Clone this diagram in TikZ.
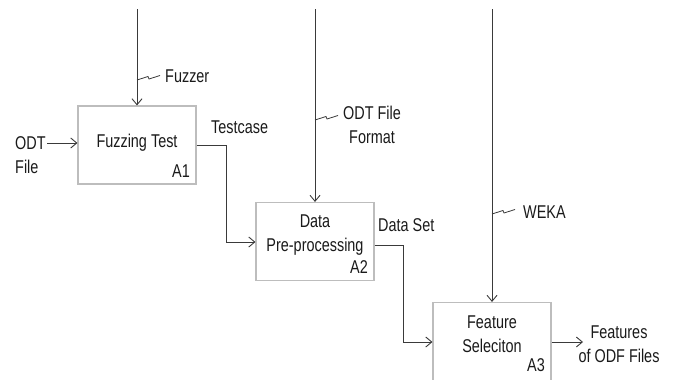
\documentclass[tikz,border=0pt]{standalone}
\usepackage{fontspec}
\setmainfont{Liberation Sans}[FakeStretch=0.78]
\usetikzlibrary{arrows.meta}
\definecolor{lin}{HTML}{3A3A3A}
\definecolor{boxc}{HTML}{BDBDBD}
\definecolor{txt}{HTML}{1A1A1A}
\tikzset{
  actbox/.style={draw=boxc, line width=1.1pt, fill=white, minimum width=118pt, minimum height=78pt, inner sep=0pt},
  flow/.style={draw=lin, line width=0.9pt, -{Straight Barb[length=6pt,width=10pt]}},
  plain/.style={draw=lin, line width=0.8pt},
  lab/.style={font=\fontsize{18.5}{24}\selectfont, text=txt, inner sep=0pt, align=center},
  code/.style={font=\fontsize{18.5}{22}\selectfont, text=txt, inner sep=0pt}
}
\begin{document}
\begin{tikzpicture}[x=1pt,y=-1pt]
\useasboundingbox (0,0) rectangle (680,380);
% boxes
\node[actbox] (A1) at (137,145) {};
\node[actbox] (A2) at (315,241.5) {};
\node[actbox] (A3) at (492,341.5) {};
\node[lab] (t1) at (137,143) {Fuzzing Test};
\node[code,anchor=east] (c1) at (190,171) {A1};
\node[lab] (t2) at (315,235) {Data\\Pre-processing};
\node[code,anchor=east] (c2) at (368,267) {A2};
\node[lab] (t3) at (492,334) {Feature\\Seleciton};
\node[code,anchor=east] (c3) at (545,365) {A3};
% top coordinates
\coordinate (m1) at (137,9);
\coordinate (m2) at (315,9);
\coordinate (m3) at (492,9);
\draw[flow] (m1) -- (A1.north);
\draw[flow] (m2) -- (A2.north);
\draw[flow] (m3) -- (A3.north);
% squiggles
\draw[plain] (137,80) -- (148,76.5) -- (149,79) -- (160,75.5);
\draw[plain] (315,120) -- (326,116.5) -- (327,119) -- (338,115.5);
\draw[plain] (492,214) -- (503,210.5) -- (504,213) -- (515,209.5);
\node[lab,anchor=west] (fz) at (165,76) {Fuzzer};
\node[lab,anchor=west,align=center] (of) at (343,125) {ODT File\\Format};
\node[lab,anchor=west] (wk) at (523,212) {WEKA};
% input
\node[lab,anchor=west,align=left] (odt) at (15,155) {ODT\\File};
\coordinate (in1) at (47,143);
\draw[flow] (in1) -- (A1.west |- in1);
% testcase
\coordinate (a1o) at (A1.east |- 0,145);
\draw[flow] (a1o) -- (226,145) -- (226,242) -- (A2.west |- 0,242);
\node[lab,anchor=west] (tc) at (211,127) {Testcase};
% data set
\coordinate (a2o) at (A2.east |- 0,245);
\draw[flow] (a2o) -- (403,245) -- (403,342) -- (A3.west |- 0,342);
\node[lab,anchor=west] (ds) at (378,225) {Data Set};
% output
\coordinate (out) at (583,342);
\draw[flow] (A3.east |- out) -- (out);
\node[lab] (fo) at (619,344) {Features\\of ODF Files};
\end{tikzpicture}
\end{document}
